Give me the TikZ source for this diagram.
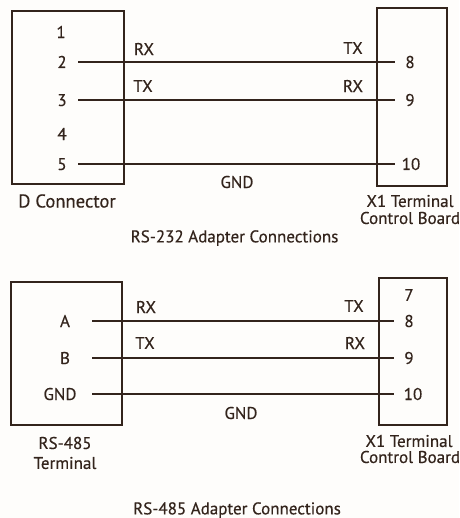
\documentclass[tikz,border=0pt]{standalone}
\usepackage{fontspec}
\setmainfont[RawFeature={embolden=0.4}]{PT Sans}
\definecolor{ink}{HTML}{33241C}
\definecolor{paper}{HTML}{FEFDFB}
\tikzset{
  x=1pt,y=-1pt,
  every node/.style={text=ink,font=\fontsize{17}{19}\selectfont,inner sep=0pt,outer sep=0pt},
  boxshape/.style={draw=ink,line width=1.9pt,fill=none,rectangle,anchor=north west},
  pinl/.style={text height=12pt,text depth=0pt,anchor=center},
  wire/.style={draw=ink,line width=1.7pt},
  lbl/.style={anchor=center},
  wide/.style={font=\fontsize{18.6}{20}\selectfont}
}
\begin{document}
\begin{tikzpicture}
\useasboundingbox[fill=paper] (0,0) rectangle (459,518);
% top
\node[boxshape,minimum width=112pt,minimum height=173pt] (dc) at (12,11) {};
\node[boxshape,minimum width=70pt,minimum height=178pt] (xa) at (377,8) {};
\node[lbl] at (61,32) {1};
\node[pinl,minimum width=32pt] (p2) at (62,62) {2};
\node[pinl,minimum width=32pt] (p3) at (62,100) {3};
\node[lbl] at (62,134) {4};
\node[pinl,minimum width=32pt] (p5) at (62,164) {5};
\node[pinl,minimum width=30pt] (q8) at (410,62) {8};
\node[pinl,minimum width=30pt] (q9) at (410,100) {9};
\node[pinl,minimum width=32pt] (q10) at (411,164) {10};
\draw[wire] (p2.east) -- (q8.west);
\draw[wire] (p3.east) -- (q9.west);
\draw[wire] (p5.east) -- (q10.west);
\node[lbl] at (144,49) {RX};
\node[lbl] at (143,86) {TX};
\node[lbl] at (353,48) {TX};
\node[lbl] at (353,86) {RX};
\node[lbl] at (237,182) {GND};
\node[lbl,wide] at (67,201) {D Connector};
\node[lbl] at (410,201) {X1 Terminal};
\node[lbl] at (410,218) {Control Board};
\node[lbl] at (234.5,238) {RS-232 Adapter Connections};
% bottom
\node[boxshape,minimum width=111pt,minimum height=143pt] (rs) at (11,282) {};
\node[boxshape,minimum width=68pt,minimum height=147pt] (xb) at (379,278) {};
\node[pinl,minimum width=54pt] (pa) at (65,321) {A};
\node[pinl,minimum width=54pt] (pb) at (65,358) {B};
\node[pinl,minimum width=64pt] (pg) at (60,394) {GND};
\node[lbl] at (409,295) {7};
\node[pinl,minimum width=30pt] (r8) at (409,321) {8};
\node[pinl,minimum width=30pt] (r9) at (409,358) {9};
\node[pinl,minimum width=38pt] (r10) at (413,394) {10};
\draw[wire] (pa.east) -- (r8.west);
\draw[wire] (pb.east) -- (r9.west);
\draw[wire] (pg.east) -- (r10.west);
\node[lbl] at (146,307) {RX};
\node[lbl] at (145,343) {TX};
\node[lbl] at (354,306) {TX};
\node[lbl] at (355,343) {RX};
\node[lbl] at (241,413) {GND};
\node[lbl] at (65,443) {RS-485};
\node[lbl] at (65,463) {Terminal};
\node[lbl] at (409,441) {X1 Terminal};
\node[lbl] at (410,457) {Control Board};
\node[lbl] at (237,510) {RS-485 Adapter Connections};
\end{tikzpicture}
\end{document}
